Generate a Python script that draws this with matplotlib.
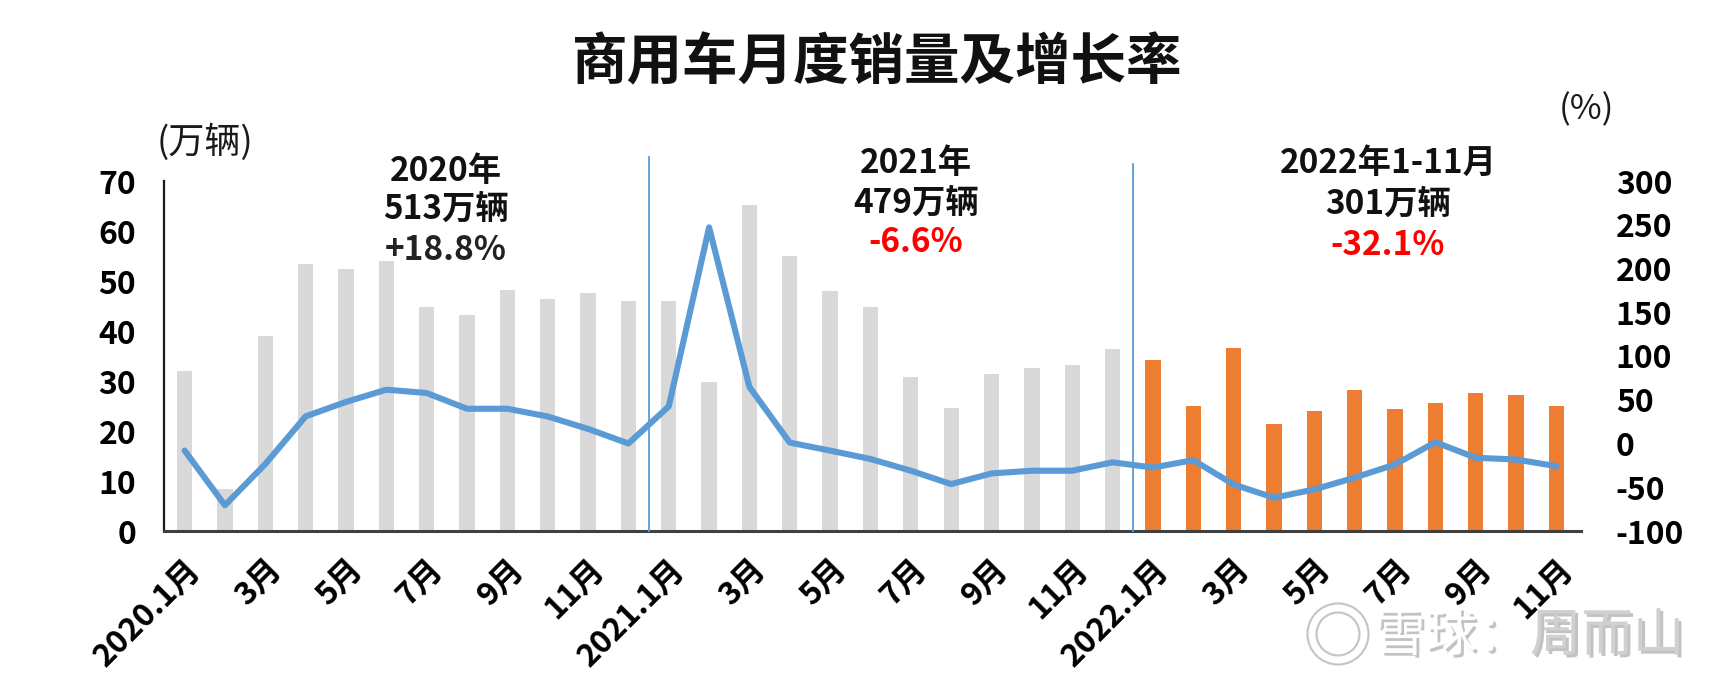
import matplotlib
matplotlib.use("Agg")
import matplotlib.pyplot as plt
import matplotlib.patheffects as pe
from matplotlib.patches import Circle
import numpy as np

plt.rcParams['font.family'] = ['Noto Sans CJK SC', 'DejaVu Sans']
plt.rcParams['axes.unicode_minus'] = False

# ---------------- data ----------------
sales_2020 = [32.0, 8.5, 39.0, 53.5, 52.4, 54.0, 44.9, 43.3, 48.2, 46.5, 47.6, 46.0]
sales_2021 = [46.0, 29.9, 65.2, 55.1, 48.1, 44.9, 30.9, 24.6, 31.5, 32.6, 33.2, 36.4]
sales_2022 = [34.2, 25.0, 36.7, 21.4, 24.0, 28.2, 24.5, 25.6, 27.7, 27.2, 25.0]

growth_2020 = [-8.0, -70.6, -23.5, 31.0, 47.5, 61.5, 57.7, 39.7, 39.7, 30.9, 16.7, 0.0]
growth_2021 = [42.4, 247.0, 64.6, 1.0, -8.1, -17.7, -31.1, -46.4, -34.2, -31.1, -31.1, -21.5]
growth_2022 = [-27.5, -19.0, -46.8, -62.0, -52.5, -39.0, -24.0, 1.5, -16.3, -18.3, -25.9]

tick_labels = ['2020.1月', '3月', '5月', '7月', '9月', '11月',
               '2021.1月', '3月', '5月', '7月', '9月', '11月',
               '2022.1月', '3月', '5月', '7月', '9月', '11月']

left_ticks = [0, 10, 20, 30, 40, 50, 60, 70]
right_ticks = [-100, -50, 0, 50, 100, 150, 200, 250, 300]

title = '商用车月度销量及增长率'
notes = [
    ('2020年', '513万辆', '+18.8%'),
    ('2021年', '479万辆', '-6.6%'),
    ('2022年1-11月', '301万辆', '-32.1%'),
]

# ---------------- figure ----------------
W, H = 1730, 690
fig = plt.figure(figsize=(W / 100, H / 100), dpi=100)
fig.patch.set_facecolor('white')

def fx(px):
    return px / W

def fy(py):
    return 1 - py / H

ax = fig.add_axes([fx(164), fy(531), fx(1581) - fx(164), fy(181) - fy(531)])
ax.patch.set_alpha(0)

sales = sales_2020 + sales_2021 + sales_2022
growth = growth_2020 + growth_2021 + growth_2022
x = np.arange(len(sales))
n_prev = len(sales_2020) + len(sales_2021)
colors = ['#d9d9d9'] * n_prev + ['#ed7d31'] * len(sales_2022)

ax.bar(x, sales, width=0.38, color=colors, zorder=2)
ax.set_xlim(-0.51, len(sales) - 1 + 0.61)
ax.set_ylim(left_ticks[0], left_ticks[-1])
ax.set_yticks(left_ticks)
ax.set_yticklabels([str(v) for v in left_ticks], fontsize=23, fontweight='bold')
ax.tick_params(axis='y', length=0, pad=20)

ax.set_xticks(x[::2])
ax.set_xticklabels(tick_labels, rotation=45, ha='right', va='top', rotation_mode='anchor',
                   fontsize=23, fontweight='bold')
ax.tick_params(axis='x', length=0, pad=16)

for s in ['top', 'right']:
    ax.spines[s].set_visible(False)
ax.spines['left'].set_color('#1a1a1a')
ax.spines['left'].set_linewidth(1.6)
ax.spines['bottom'].set_color('#404040')
ax.spines['bottom'].set_linewidth(2.2)

# year dividers
ax.axvline(len(sales_2020) - 0.5, ymin=0, ymax=1.07, color='#5b9bd5', lw=1.3,
           clip_on=False, zorder=3)
ax.axvline(n_prev - 0.5, ymin=0, ymax=1.05, color='#5b9bd5', lw=1.3,
           clip_on=False, zorder=3)

ax2 = ax.twinx()
ax2.plot(x, growth, color='#5b9bd5', lw=4.4, solid_joinstyle='round',
         solid_capstyle='round', zorder=4)
ax2.set_ylim(right_ticks[0], right_ticks[-1])
ax2.set_yticks(right_ticks)
ax2.set_yticklabels([str(v) for v in right_ticks], fontsize=23, fontweight='bold')
ax2.tick_params(axis='y', length=0, pad=25)
for s in ['top', 'right', 'left', 'bottom']:
    ax2.spines[s].set_visible(False)

# axis unit labels
fig.text(fx(205), fy(142), '(万辆)', fontsize=26, ha='center', va='center', color='#1a1a1a')
fig.text(fx(1586), fy(110), '(%)', fontsize=25, ha='center', va='center', color='#1a1a1a')

# title
fig.text(fx(877), fy(63), title, fontsize=40, fontweight='bold', ha='center', va='center',
         color='#111111')

# period notes
note_pos = [(446, [171, 209, 251]), (916, [163, 203, 243]), (1388, [163, 204, 246])]
for (l1, l2, l3), (cx, ys) in zip(notes, note_pos):
    fig.text(fx(cx), fy(ys[0]), l1, fontsize=24, fontweight='bold', ha='center', va='center',
             color='#111111')
    fig.text(fx(cx), fy(ys[1]), l2, fontsize=24, fontweight='bold', ha='center', va='center',
             color='#111111')
    red = l3.startswith('-')
    fig.text(fx(cx), fy(ys[2]), l3, fontsize=24, fontweight='bold',
             ha='center', va='center', color='#ff0000' if red else '#222222')

# corner watermark
shadow = [pe.SimplePatchShadow(offset=(2, -2), shadow_rgbFace='#9a9a9a', alpha=0.6), pe.Normal()]
ring = [pe.withStroke(linewidth=8, foreground='#c4c4c4')]
logo = Circle((13.38, (H - 634) / 100), radius=0.26, transform=fig.dpi_scale_trans,
              fill=False, edgecolor='white', lw=5, path_effects=ring)
fig.add_artist(logo)
fig.text(fx(1374), fy(636), '雪球：', fontsize=37, color='white', ha='left', va='center',
         path_effects=shadow)
fig.text(fx(1530), fy(636), '周而山', fontsize=37, color='#d0d0d0', ha='left', va='center',
         path_effects=shadow)

fig.savefig('out.png', dpi=100, facecolor='white')
